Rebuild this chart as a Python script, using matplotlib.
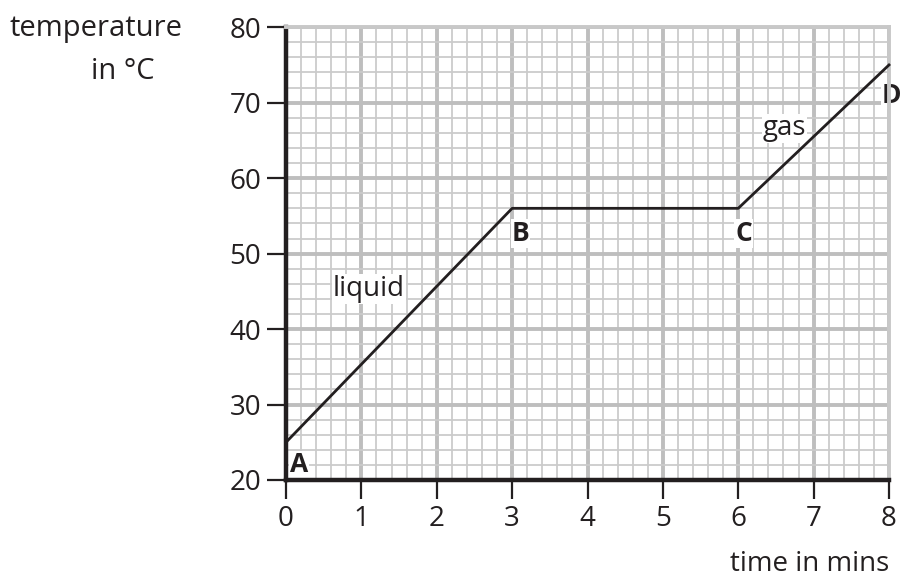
import matplotlib.pyplot as plt
from matplotlib.ticker import MultipleLocator

plt.rcParams['font.family'] = ['Open Sans', 'DejaVu Sans']

# points on the heating curve
time_mins = [0, 3, 6, 8]
temp_c = [25, 56, 56, 75]
point_names = ['A', 'B', 'C', 'D']

fig = plt.figure(figsize=(9.04, 5.79), dpi=100)
ax = fig.add_axes([0.3164, 0.171, 0.6670, 0.782])

ax.set_xlim(0, 8)
ax.set_ylim(20, 80)
ax.xaxis.set_major_locator(MultipleLocator(1))
ax.xaxis.set_minor_locator(MultipleLocator(0.2))
ax.yaxis.set_major_locator(MultipleLocator(10))
ax.yaxis.set_minor_locator(MultipleLocator(2))

ax.grid(which='minor', color='#cbcbcb', lw=1.3)
ax.grid(which='major', color='#bebebe', lw=2.8)
ax.set_axisbelow(True)

for s in ['top', 'right']:
    ax.spines[s].set_color('#c8c8c8')
    ax.spines[s].set_linewidth(2.8)
for s in ['left', 'bottom']:
    ax.spines[s].set_color('#231f20')
    ax.spines[s].set_linewidth(3.2)

ax.tick_params(which='minor', length=0)
ax.tick_params(which='major', direction='out', length=14, width=1.6,
               color='#231f20', labelsize=20, labelcolor='#231f20', pad=4)

ax.plot(time_mins, temp_c, color='#231f20', lw=2, clip_on=False, zorder=3)

# point letters: (dx, dy)
offsets = [(0.05, -3.0), (-0.01, -3.3), (-0.04, -3.3), (-0.1, -4.0)]
for x, y, name, (dx, dy) in zip(time_mins, temp_c, point_names, offsets):
    ax.text(x + dx, y + dy, name, fontsize=19, fontweight='bold', ha='left', va='center',
            color='#231f20', zorder=2.4, clip_on=False,
            bbox=dict(facecolor='white', edgecolor='none', pad=0.5))

ax.text(0.62, 45.3, 'liquid', fontsize=20, color='#231f20', ha='left', va='center',
        zorder=2.4, bbox=dict(facecolor='white', edgecolor='none', pad=0.5))
ax.text(6.32, 66.6, 'gas', fontsize=20, color='#231f20', ha='left', va='center',
        zorder=2.4, bbox=dict(facecolor='white', edgecolor='none', pad=0.5))

fig.text(0.106, 0.950, 'temperature', fontsize=21, color='#231f20', ha='center', va='center')
fig.text(0.136, 0.877, 'in °C', fontsize=21, color='#231f20', ha='center', va='center')
fig.text(0.984, 0.026, 'time in mins', fontsize=20, color='#231f20', ha='right', va='center')

fig.savefig('out.png', dpi=100)
